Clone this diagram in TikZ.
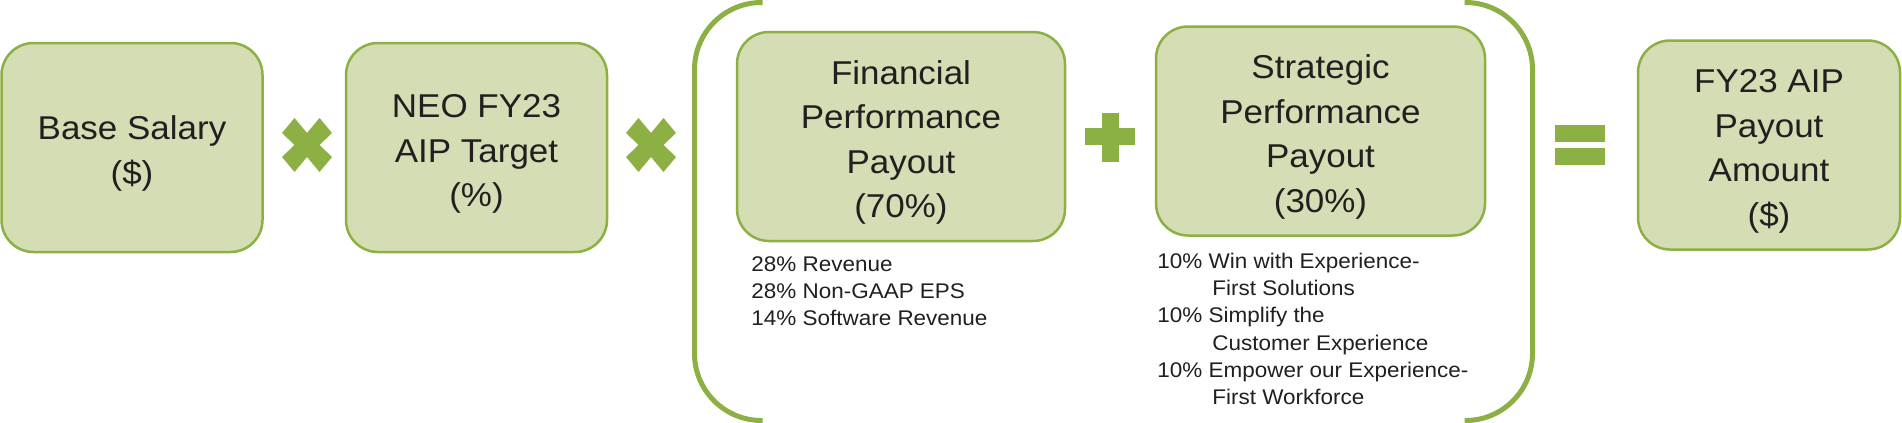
\documentclass[tikz,border=0pt]{standalone}
\usepackage{fontspec}
\setmainfont{Liberation Sans}[FakeStretch=1.06]
\definecolor{leaf}{HTML}{8CB043}
\definecolor{leaflight}{HTML}{D4DDB4}
\definecolor{ink}{HTML}{231F20}
\tikzset{
  box/.style = {rectangle, rounded corners=16pt, draw=leaf, fill=leaflight,
                line width=1.25pt, minimum width=#1, minimum height=104.5pt,
                inner sep=0pt, align=center, text=ink,
                font={\fontsize{16.5}{22.3}\selectfont}},
  box/.default = 130.5pt,
  note/.style = {anchor=north west, align=left, inner sep=0pt, text=ink,
                 font={\fontsize{10.6}{13.65}\selectfont}},
  paren/.style = {draw=leaf, line width=2.5pt, rounded corners=33.5pt}
}

\begin{document}
\begin{tikzpicture}[x=0.5pt, y=-0.5pt]
	\def \ind{\hspace*{27.5pt}}
	\def \up{\rule{0pt}{18pt}}
	\useasboundingbox (0,0) rectangle (1902,423);
	\fill[white] (0,0) rectangle (1902,423);

	% Boxes
	\node[box] (base) at (132,147.5) {\up Base Salary\\(\$)};
	\node[box] (neo) at (476.5,147.5) {\up NEO FY23\\AIP Target\\(\%)};
	\node[box=164pt] (fin) at (901,136.5) {\up Financial\\Performance\\Payout\\(70\%)};
	\node[box=164.5pt] (strat) at (1320.5,131) {\up Strategic\\Performance\\Payout\\(30\%)};
	\node[box=131pt] (pay) at (1769,145) {\up FY23 AIP\\Payout\\Amount\\(\$)};

	% Weights
	\node[note] (finlist) at (751,256) {28\% Revenue\\28\% Non-GAAP EPS\\14\% Software Revenue};
	\node[note] (stratlist) at (1157,252.5) {10\% Win with Experience-\\\ind First Solutions\\10\% Simplify the\\\ind Customer Experience\\10\% Empower our Experience-\\\ind First Workforce};

	% Brackets
	\draw[paren] (762.5,2.5) -- (694.5,2.5) -- (694.5,420.5) -- (762.5,420.5);
	\draw[paren] (1464.5,2.5) -- (1532.5,2.5) -- (1532.5,420.5) -- (1464.5,420.5);

	% Operators
	\foreach \cx in {307,651}
		\fill[leaf, shift={(\cx,145)}] (0,-12) -- (12.5,-27) -- (25,-12) -- (12.5,0) -- (25,12) -- (12.5,27)
			-- (0,12) -- (-12.5,27) -- (-25,12) -- (-12.5,0) -- (-25,-12) -- (-12.5,-27) -- cycle; % times
	\fill[leaf] (1102,113) rectangle (1119,162); % plus
	\fill[leaf] (1085,128) rectangle (1135,145);
	\fill[leaf] (1555,125) rectangle (1604.5,142); % equals
	\fill[leaf] (1555,148) rectangle (1604.5,164.5);

\end{tikzpicture}
\end{document}
